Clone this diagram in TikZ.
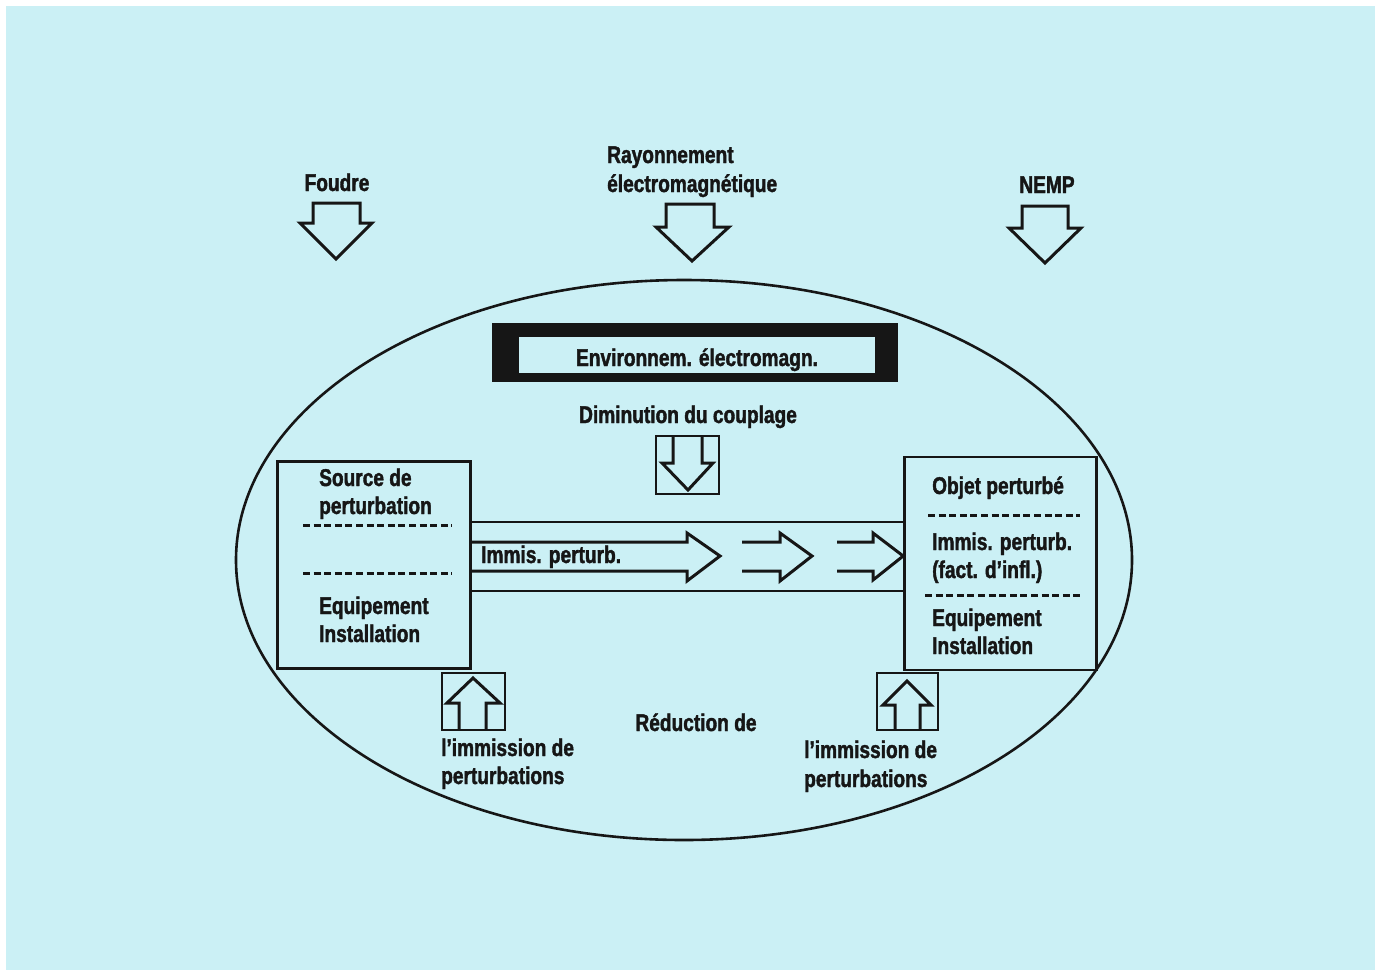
\documentclass[tikz,border=0pt]{standalone}
\usepackage{fontspec}
\setmainfont[FakeStretch=0.79, BoldFeatures={FakeBold=1.6}]{Liberation Sans}
\definecolor{bg}{RGB}{203,240,245}
\definecolor{ink}{RGB}{22,22,22}
\begin{document}
\begin{tikzpicture}[x=1pt,y=-1pt,
  lbl/.style={font=\fontsize{24.2}{28}\selectfont\bfseries, text=ink, inner sep=0pt},
  ln/.style={draw=ink, line width=2.6pt, line join=miter},
  arr/.style={draw=ink, line width=3pt, line join=miter},
  dsh/.style={draw=ink, line width=3pt, dash pattern=on 7pt off 3.6pt}]
\useasboundingbox (0,0) rectangle (1378,975);
\fill[white] (0,0) rectangle (1378,975);
\fill[bg] (6,6) rectangle (1375,970);

% top labels
\node[lbl, anchor=base] (foudre) at (337,191) {Foudre};
\node[lbl, anchor=base west] (ray1) at (607,163) {Rayonnement};
\node[lbl, anchor=base west] (ray2) at (607,192) {électromagnétique};
\node[lbl, anchor=base] (nemp) at (1047,193) {NEMP};

% top arrows
\draw[arr] (313,203) -- (360,203) -- (360,223) -- (372,223) -- (336,259) -- (300,223) -- (313,223) -- cycle;
\draw[arr] (666,204) -- (714,204) -- (714,227) -- (729,227) -- (692,261) -- (656,227) -- (666,227) -- cycle;
\draw[arr] (1022,206) -- (1068,206) -- (1068,228) -- (1081,228) -- (1045,263) -- (1009,228) -- (1022,228) -- cycle;

% ellipse
\draw[ln] (684,560) ellipse [x radius=448, y radius=280];

% environment box
\node[fill=ink, minimum width=406, minimum height=59, inner sep=0pt] (envout) at (695,352.5) {};
\node[fill=bg, minimum width=356, minimum height=36, inner sep=0pt] (envin) at (697,355) {};
\node[lbl, anchor=base] (envtxt) at (697,366) {Environnem. électromagn.};

% couplage
\node[lbl, anchor=base] (dimin) at (688,423) {Diminution du couplage};
\node[ln, minimum width=63, minimum height=58, inner sep=0pt] (cbox) at (687.5,465) {};
\draw[arr] (673,437) -- (673,463) -- (662,463) -- (688,490) -- (713,463) -- (702,463) -- (702,437);

% left box
\node[ln, fill=bg, minimum width=193, minimum height=207, inner sep=0pt] (src) at (374,565) {};
\node[lbl, anchor=base west] (src1) at (319,486) {Source de};
\node[lbl, anchor=base west] (src2) at (319,514) {perturbation};
\draw[dsh] (303,525) -- (452,525);
\draw[dsh] (303,573) -- (452,573);
\node[lbl, anchor=base west] (src3) at (319,614) {Equipement};
\node[lbl, anchor=base west] (src4) at (319,642) {Installation};

% right box
\node[ln, fill=bg, minimum width=192, minimum height=213, inner sep=0pt] (obj) at (1000.5,563.5) {};
\node[lbl, anchor=base west] (obj1) at (932,494) {Objet perturbé};
\draw[dsh] (928,515) -- (1080,515);
\node[lbl, anchor=base west] (obj2) at (932,550) {Immis. perturb.};
\node[lbl, anchor=base west] (obj3) at (932,578) {(fact. d'infl.)};
\draw[dsh] (925,595) -- (1080,595);
\node[lbl, anchor=base west] (obj4) at (932,626) {Equipement};
\node[lbl, anchor=base west] (obj5) at (932,654) {Installation};

% band between boxes
\draw[ln] (src.east |- 0,522) -- (obj.west |- 0,522);
\draw[ln] (src.east |- 0,591) -- (obj.west |- 0,591);
\draw[arr] (src.east |- 0,542) -- (687,542) -- (687,533) -- (720,556) -- (687,581) -- (687,571) -- (src.east |- 0,571);
\draw[arr] (742,542) -- (780,542) -- (780,533) -- (812,556) -- (780,581) -- (780,571) -- (742,571);
\draw[arr] (837,542) -- (873,542) -- (873,533) -- (obj.west |- 0,556) -- (873,580) -- (873,571) -- (837,571);
\node[lbl, anchor=base west] (band) at (481,563) {Immis. perturb.};

% bottom boxes
\node[ln, minimum width=63, minimum height=57, inner sep=0pt] (lbox) at (473.5,701.5) {};
\draw[arr] (459,729) -- (459,703) -- (447,703) -- (473,678) -- (500,703) -- (486,703) -- (486,729);
\node[ln, minimum width=61, minimum height=57, inner sep=0pt] (rbox) at (907.5,701.5) {};
\draw[arr] (895,729) -- (895,705) -- (883,705) -- (907,681) -- (931,705) -- (920,705) -- (920,729);

% bottom texts
\node[lbl, anchor=base] (red) at (696,731) {Réduction de};
\node[lbl, anchor=base west] (lim1) at (441,756) {l'immission de};
\node[lbl, anchor=base west] (lim2) at (441,784) {perturbations};
\node[lbl, anchor=base west] (rim1) at (804,758) {l'immission de};
\node[lbl, anchor=base west] (rim2) at (804,787) {perturbations};
\end{tikzpicture}
\end{document}
